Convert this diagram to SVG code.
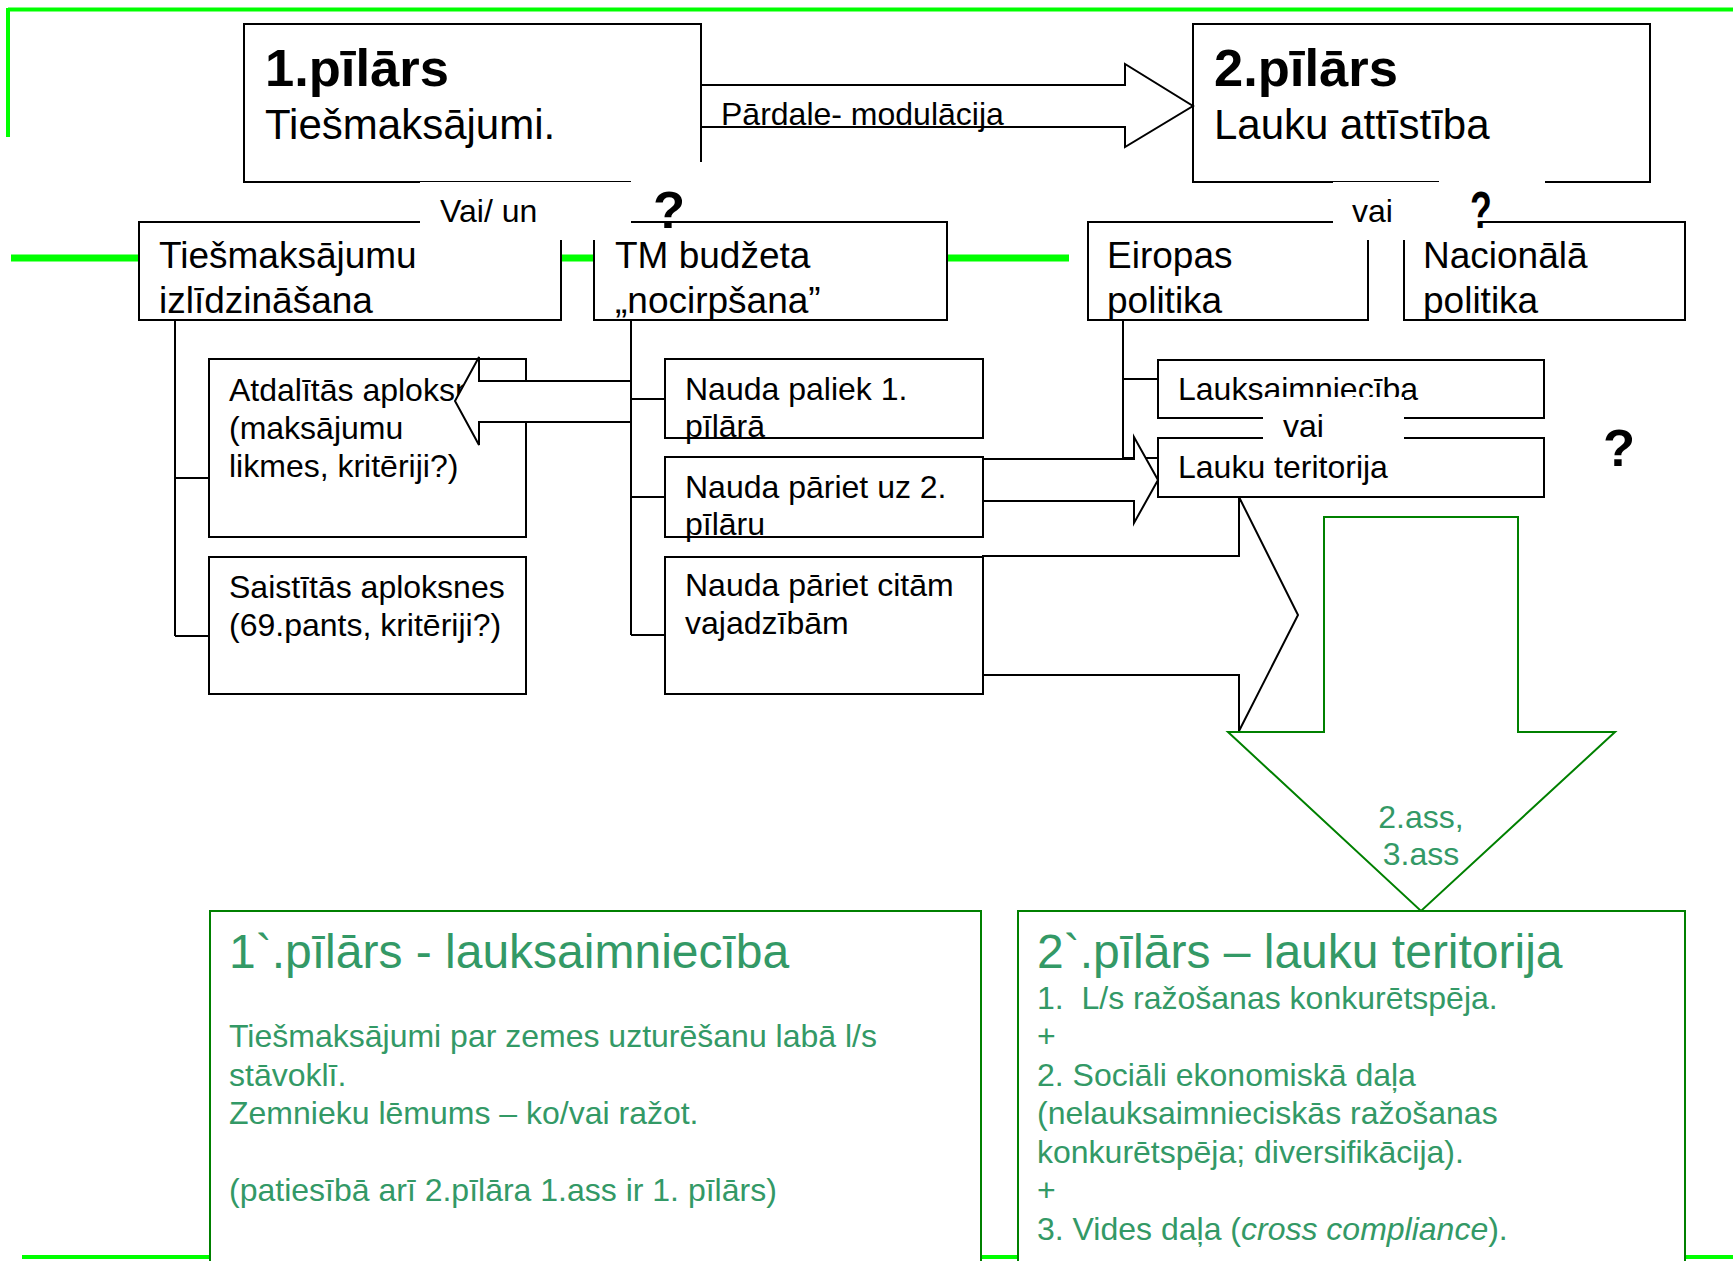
<svg xmlns="http://www.w3.org/2000/svg" width="1733" height="1261" viewBox="0 0 1733 1261">
<style>
.box{fill:#fff;stroke:#000;stroke-width:2}
.gbox{fill:#fff;stroke:#008000;stroke-width:2}
.arrow{fill:#fff;stroke:#000;stroke-width:2;stroke-linejoin:miter}
.conn{fill:none;stroke:#000;stroke-width:2}
.mask{fill:#fff;stroke:none}
.bright{fill:none;stroke:#00ff00}
text{font-family:"Liberation Sans",Arial,sans-serif;fill:#000}
.b{font-weight:bold}
.s31{font-size:32px}
.s37{font-size:37px}
.s41{font-size:42px}
.s52{font-size:52.5px}
.g{fill:#339966}
.gt{font-size:48px}
.gb{font-size:32px}
</style>

<g id="frame-lines">
  <path class="bright" stroke-width="4" d="M8 9.5 H1733 M8 8 V137"/>
  <path class="bright" stroke-width="7" d="M11 258 H1069"/>
  <path class="bright" stroke-width="4" d="M22 1257 H1733"/>
</g>

<g id="pillar1">
  <rect class="box" x="244" y="24" width="457" height="158"/>
  <text class="b s52" x="265" y="86">1.pīlārs</text>
  <text class="s41" x="265" y="139">Tiešmaksājumi.</text>
</g>

<g id="pillar2">
  <rect class="box" x="1193" y="24" width="457" height="158"/>
  <text class="b s52" x="1214" y="86">2.pīlārs</text>
  <text class="s41" x="1214" y="139">Lauku attīstība</text>
</g>

<g id="connectors">
  <g id="redistribution-arrow">
    <polygon class="arrow" points="701,85 1125,85 1125,64 1193,106 1125,147 1125,127 701,127"/>
    <text class="s31" x="721" y="125">Pārdale- modulācija</text>
  </g>
</g>

<g id="q-left-bg"><rect class="mask" x="631" y="162" width="106" height="58"/></g>
<g id="q-right-bg"><rect class="mask" x="1439" y="162" width="106" height="58"/></g>

<g id="equalisation">
  <rect class="box" x="139" y="222" width="422" height="98"/>
  <text class="s37" x="159" y="268">Tiešmaksājumu</text>
  <text class="s37" x="159" y="313">izlīdzināšana</text>
</g>
<g id="budget-cut">
  <rect class="box" x="594" y="222" width="353" height="98"/>
  <text class="s37" x="615" y="268">TM budžeta</text>
  <text class="s37" x="615" y="313">„nocirpšana”</text>
</g>
<g id="eu-policy">
  <rect class="box" x="1088" y="222" width="280" height="98"/>
  <text class="s37" x="1107" y="268">Eiropas</text>
  <text class="s37" x="1107" y="313">politika</text>
</g>
<g id="national-policy">
  <rect class="box" x="1404" y="222" width="281" height="98"/>
  <text class="s37" x="1423" y="268">Nacionālā</text>
  <text class="s37" x="1423" y="313">politika</text>
</g>

<g id="label-vai-un">
  <rect class="mask" x="420" y="182" width="211" height="58"/>
  <text class="s31" x="440" y="222">Vai/ un</text>
</g>
<g id="label-q1">
  <text class="b s52" x="653" y="228">?</text>
</g>
<g id="label-vai">
  <rect class="mask" x="1333" y="182" width="147" height="58"/>
  <text class="s31" x="1352" y="222">vai</text>
</g>
<g id="label-q2">
  <text class="b s52" transform="translate(1470,228) scale(0.68,1)" x="0" y="0">?</text>
</g>

<g id="tree-connectors">
  <path class="conn" d="M175 320 V636 M175 478 H209 M175 636 H209"/>
  <path class="conn" d="M631 320 V635 M631 399 H665 M631 497 H665 M631 635 H665"/>
  <path class="conn" d="M1123 320 V458 M1123 379 H1158 M1123 458 H1158"/>
</g>

<g id="decoupled">
  <rect class="box" x="209" y="359" width="317" height="178"/>
  <text class="s31" x="229" y="401">Atdalītās aploksnes</text>
  <text class="s31" x="229" y="439">(maksājumu</text>
  <text class="s31" x="229" y="477">likmes, kritēriji?)</text>
</g>
<g id="coupled">
  <rect class="box" x="209" y="557" width="317" height="137"/>
  <text class="s31" x="229" y="598">Saistītās aploksnes</text>
  <text class="s31" x="229" y="636">(69.pants, kritēriji?)</text>
</g>

<g id="stays">
  <rect class="box" x="665" y="359" width="318" height="79"/>
  <text class="s31" x="685" y="400">Nauda paliek 1.</text>
  <text class="s31" x="685" y="437">pīlārā</text>
</g>
<g id="moves2">
  <rect class="box" x="665" y="457" width="318" height="80"/>
  <text class="s31" x="685" y="498">Nauda pāriet uz 2.</text>
  <text class="s31" x="685" y="535">pīlāru</text>
</g>
<g id="moves-other">
  <rect class="box" x="665" y="557" width="318" height="137"/>
  <text class="s31" x="685" y="596">Nauda pāriet citām</text>
  <text class="s31" x="685" y="634">vajadzībām</text>
</g>

<g id="arrows">
  <polygon class="arrow" points="631,381 479,381 479,357 455,401 479,445 479,422 631,422"/>
  <polygon class="arrow" points="983,459 1134,459 1134,437 1158,480 1134,523 1134,501 983,501"/>
  <polygon class="arrow" points="983,556 1239,556 1239,497 1298,615 1239,731 1239,675 983,675"/>
</g>

<g id="agriculture">
  <rect class="box" x="1158" y="360" width="386" height="58"/>
  <text class="s31" x="1178" y="400">Lauksaimniecība</text>
</g>
<g id="rural-territory">
  <rect class="box" x="1158" y="438" width="386" height="59"/>
  <text class="s31" x="1178" y="478">Lauku teritorija</text>
</g>
<g id="label-vai2">
  <rect class="mask" x="1263" y="397" width="141" height="43"/>
  <text class="s31" x="1283" y="437">vai</text>
</g>
<g id="label-q3">
  <text class="b s52" x="1603" y="466">?</text>
</g>

<g id="green-arrow">
  <polygon class="gbox" points="1324,517 1518,517 1518,732 1615,732 1421,911 1228,732 1324,732"/>
  <text class="g s31" x="1421" y="828" text-anchor="middle">2.ass,</text>
  <text class="g s31" x="1421" y="865" text-anchor="middle">3.ass</text>
</g>

<g id="pillar1-agri">
  <rect class="gbox" x="210" y="911" width="771" height="400"/>
  <text class="g gt" x="229" y="968">1`.pīlārs - lauksaimniecība</text>
  <text class="g gb" x="229" y="1047">Tiešmaksājumi par zemes uzturēšanu labā l/s</text>
  <text class="g gb" x="229" y="1085.5">stāvoklī.</text>
  <text class="g gb" x="229" y="1124">Zemnieku lēmums – ko/vai ražot.</text>
  <text class="g gb" x="229" y="1201">(patiesībā arī 2.pīlāra 1.ass ir 1. pīlārs)</text>
</g>

<g id="pillar2-rural">
  <rect class="gbox" x="1018" y="911" width="667" height="400"/>
  <text class="g gt" x="1037" y="968">2`.pīlārs – lauku teritorija</text>
  <text class="g gb" x="1037" y="1008.5" xml:space="preserve">1.  L/s ražošanas konkurētspēja.</text>
  <text class="g gb" x="1037" y="1047">+</text>
  <text class="g gb" x="1037" y="1085.5">2. Sociāli ekonomiskā daļa</text>
  <text class="g gb" x="1037" y="1124">(nelauksaimnieciskās ražošanas</text>
  <text class="g gb" x="1037" y="1162.5">konkurētspēja; diversifikācija).</text>
  <text class="g gb" x="1037" y="1201">+</text>
  <text class="g gb" x="1037" y="1239.5">3. Vides daļa (<tspan font-style="italic">cross compliance</tspan>).</text>
</g>
</svg>
